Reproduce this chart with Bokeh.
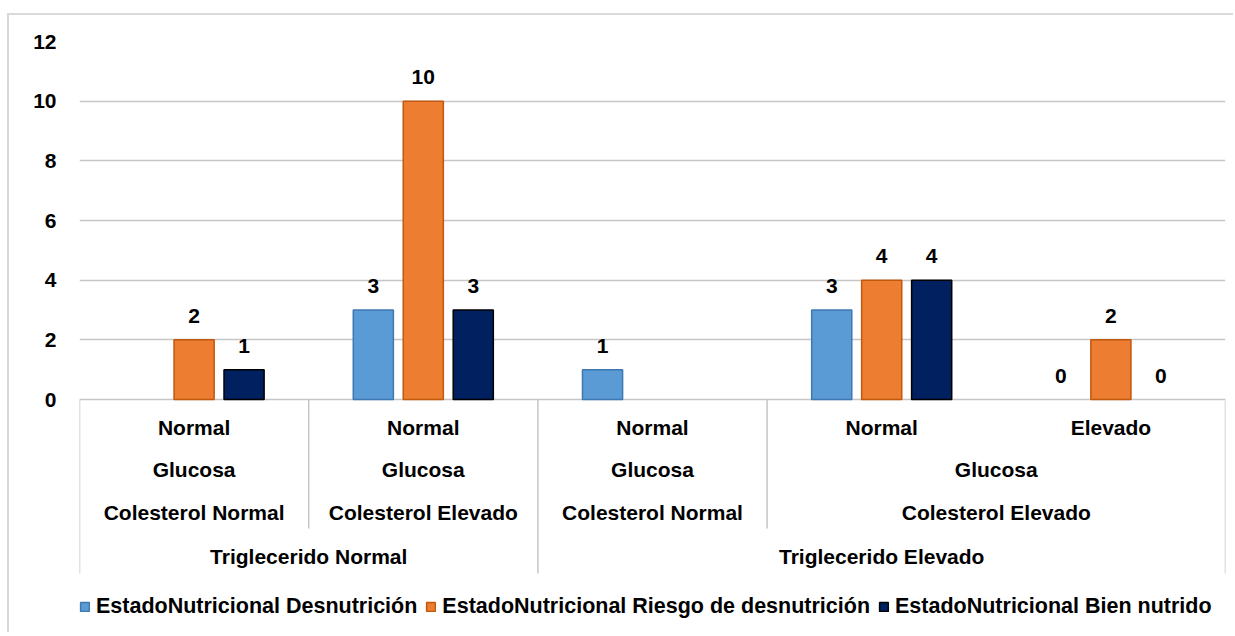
import math
from bokeh.plotting import figure
from bokeh.models import ColumnDataSource, Range1d, FixedTicker, Legend, LegendItem
from bokeh.embed import file_html
from bokeh.resources import INLINE
from bokeh.core.properties import value

# ---------------- data ----------------
triglecerido = ["Triglecerido Normal", "Triglecerido Normal", "Triglecerido Elevado",
                "Triglecerido Elevado", "Triglecerido Elevado"]
colesterol = ["Colesterol Normal", "Colesterol Elevado", "Colesterol Normal",
              "Colesterol Elevado", "Colesterol Elevado"]
glucosa_campo = ["Glucosa", "Glucosa", "Glucosa", "Glucosa", "Glucosa"]
glucosa_valor = ["Normal", "Normal", "Normal", "Normal", "Elevado"]

desnutricion = [None, 3, 1, 3, 0]
riesgo = [2, 10, None, 4, 2]
bien_nutrido = [1, 3, None, 4, 0]

series_names = ["EstadoNutricional Desnutrición",
                "EstadoNutricional Riesgo de desnutrición",
                "EstadoNutricional Bien nutrido"]
series_values = [desnutricion, riesgo, bien_nutrido]
fill_colors = ["#5B9BD5", "#ED7D31", "#002060"]
line_colors = ["#3F78B0", "#C0580F", "#000000"]

y_ticks = [0, 2, 4, 6, 8, 10, 12]

# ---------------- layout constants ----------------
FONT = value("Liberation Sans")
W, H = 1226, 619
TOP, BOTTOM, LEFT, RIGHT = 26, 2, 70, 10
y_max = 12
frame_h = H - TOP - BOTTOM
zero_px = 358                      # pixels from frame top to value 0
px_per_unit = zero_px / y_max
y_min = -(frame_h - zero_px) / px_per_unit

n = len(glucosa_valor)
bar_w = 0.175
offsets = [-0.218, 0.0, 0.218]

p = figure(width=W, height=H, output_backend="svg", toolbar_location=None,
           x_range=Range1d(0, n), y_range=Range1d(y_min, y_max),
           min_border_top=TOP, min_border_bottom=BOTTOM,
           min_border_left=LEFT, min_border_right=RIGHT,
           background_fill_color="white", border_fill_color="white")
p.outline_line_color = None
p.styles = {"border-top": "2px solid #d9d9d9", "border-left": "2px solid #d9d9d9",
            "border-right": "0px none white", "border-bottom": "0px none white",
            "margin-top": "13px", "margin-left": "7px"}

p.xaxis.visible = False
p.xgrid.visible = False
p.ygrid.ticker = FixedTicker(ticks=y_ticks)
p.ygrid.grid_line_color = "#c6c6c6"
p.ygrid.grid_line_width = 1.5
p.yaxis.ticker = FixedTicker(ticks=y_ticks)
p.yaxis.axis_line_color = None
p.yaxis.major_tick_line_color = None
p.yaxis.minor_tick_line_color = None
p.yaxis.major_label_standoff = 17
p.yaxis.major_label_text_font = "Liberation Sans"
p.yaxis.major_label_text_font_style = "bold"
p.yaxis.major_label_text_font_size = "21px"
p.yaxis.major_label_text_color = "#000000"

legend_items = []
for name, vals, fc, lc, off in zip(series_names, series_values, fill_colors, line_colors, offsets):
    xs = [i + 0.5 + off for i, v in enumerate(vals) if v is not None]
    ys = [v for v in vals if v is not None]
    bar_src = ColumnDataSource(dict(x=[x for x, y in zip(xs, ys) if y > 0],
                                    top=[y for y in ys if y > 0]))
    lab_src = ColumnDataSource(dict(x=xs, top=ys, label=[str(v) for v in ys]))
    r = p.vbar(x="x", top="top", bottom=0, width=bar_w, source=bar_src,
               fill_color=fc, line_color=lc, line_width=1.5)
    p.text(x="x", y="top", text="label", source=lab_src, text_font=FONT,
           text_font_style="bold", text_font_size="21px", text_color="#000000",
           text_align="center", text_baseline="alphabetic", y_offset=-24)
    legend_items.append(LegendItem(label=name, renderers=[r]))

# ---------------- hierarchical category axis ----------------
factors = list(zip(triglecerido, colesterol, glucosa_campo, glucosa_valor))
levels = 4
row_offsets = [157, 113, 70, 28]   # pixel offset below 0 for level 0..3

def runs(k):
    out = []
    start = 0
    for i in range(1, n + 1):
        if i == n or factors[i][:k + 1] != factors[start][:k + 1]:
            out.append((start, i, factors[start][k]))
            start = i
    return out

lx, ly, lt, loff = [], [], [], []
for k in range(levels):
    for s, e, lab in runs(k):
        lx.append((s + e) / 2)
        ly.append(0)
        lt.append(lab)
        loff.append(row_offsets[k])
p.text(x=lx, y=ly, text=lt, y_offset=loff, text_font=FONT, text_font_style="bold",
       text_font_size="21px", text_color="#000000", text_align="center",
       text_baseline="middle")

# separators
sep_full = -174 / px_per_unit
sep_partial = -129 / px_per_unit
sx, sy0, sy1 = [0, n], [0, 0], [sep_full, sep_full]
for i in range(1, n):
    if factors[i][0] != factors[i - 1][0]:
        sx.append(i); sy0.append(0); sy1.append(sep_full)
    elif factors[i][:2] != factors[i - 1][:2]:
        sx.append(i); sy0.append(0); sy1.append(sep_partial)
p.segment(x0=sx, y0=sy0, x1=sx, y1=sy1, line_color="#c6c6c6", line_width=1.5)

legend = Legend(items=legend_items, orientation="horizontal", location=(0, 13),
                label_text_font="Liberation Sans", label_text_font_style="bold",
                label_text_font_size="21.5px", label_text_color="#000000",
                glyph_width=11, glyph_height=11, label_standoff=6, spacing=8,
                padding=0, margin=0, border_line_color=None,
                background_fill_alpha=0, label_height=20)
p.add_layout(legend, "center")

open("out.html", "w").write(file_html(p, INLINE))
